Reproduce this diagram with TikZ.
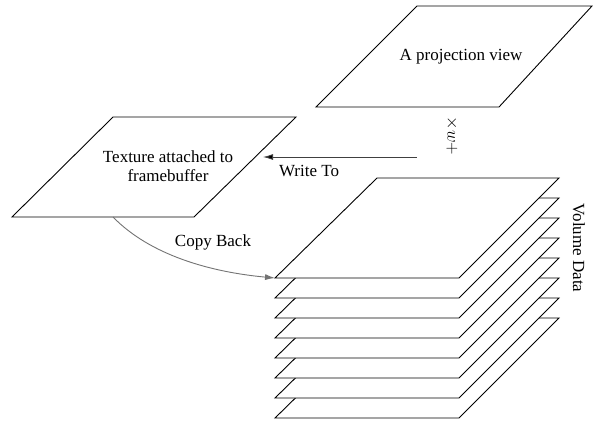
\documentclass[tikz,border=0pt]{standalone}
\usepackage{fontspec}
\setmainfont{Liberation Serif}
\usetikzlibrary{arrows.meta}
\begin{document}
\begin{tikzpicture}[x=1pt,y=-1pt,
  plane/.style={draw=black,fill=white,line width=0.9pt,line join=miter},
  lbl/.style={font=\fontsize{17}{19}\selectfont,inner sep=0pt},
  conn/.style={line width=0.9pt,-{Latex[length=10pt,width=6pt]}}]
\useasboundingbox (0,0) rectangle (593,421);
% projection view
\draw[plane] (417,6) -- (592,6) -- (499,107) -- (316,107) -- cycle;
\node[lbl] (proj) at (461,57) {A projection view};
\node[lbl,rotate=-90] (op) at (452,136) {$\times w+$};
% texture
\draw[plane] (113,117) -- (296,117) -- (194,217) -- (12,217) -- cycle;
\coordinate (texbot) at (113,217);
\node[lbl,align=center] (tex) at (168,166) {Texture attached to\\framebuffer};
% write to
\coordinate (wstart) at (417,157);
\coordinate (wend) at (263,157);
\draw[conn,draw=black!75,{Latex[length=10pt,width=6pt,fill=black]}-] (wend) -- (wstart);
\node[lbl] (write) at (309,171) {Write To};
% volume stack
\foreach \i in {7,6,...,0}{
  \draw[plane] (377,{178+20*\i}) -- (559,{178+20*\i}) -- (459,{278+20*\i}) -- (275,{278+20*\i}) -- cycle;
}
\coordinate (voltl) at (275,278);
\node[lbl,rotate=-90] (vol) at (579,248) {Volume Data};
% copy back
\draw[conn,draw=black!55,-{Latex[length=10pt,width=6pt,fill=black!55]}] (texbot) .. controls (150,255) and (210,272) .. (voltl);
\node[lbl] (copy) at (213,242) {Copy Back};
\end{tikzpicture}
\end{document}
